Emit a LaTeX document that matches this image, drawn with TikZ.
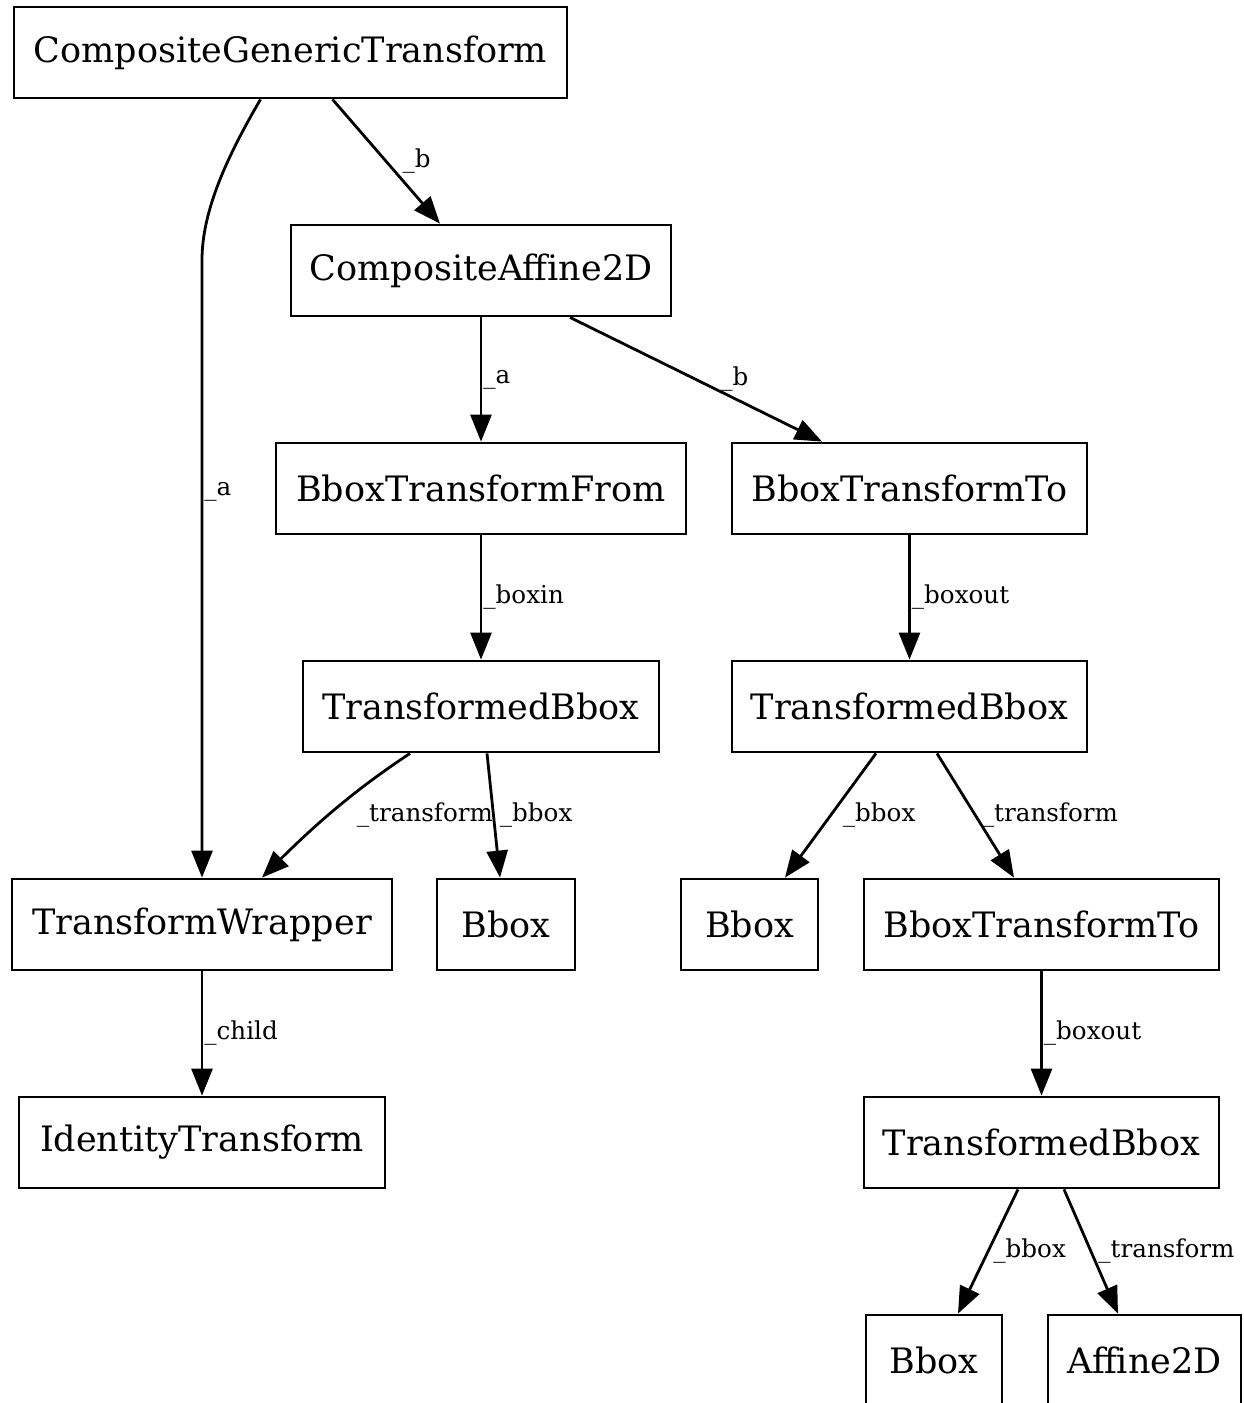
\documentclass[tikz,border=0pt]{standalone}
\usepackage{fontspec}
\setmainfont{DejaVu Serif}
\usetikzlibrary{arrows.meta,calc}
\tikzset{
  cls/.style={draw=black, line width=1.4pt, fill=white, inner sep=0pt,
    minimum height=45.5pt, font=\fontsize{17.5}{20}\selectfont},
  ref/.style={draw=black, line width=1.4pt, -{Triangle[length=13.5pt, width=10.5pt]}},
  elbl/.style={font=\fontsize{12.3}{14}\selectfont, inner sep=0.5pt, anchor=west}
}
\begin{document}
\begin{tikzpicture}[x=0.5pt, y=-0.5pt]
    \useasboundingbox (0,0) rectangle (1243,1403);
    % rows of the reference tree
    \node[cls, minimum width=276.5pt] (cgt) at (290.5,52.5) {CompositeGenericTransform};
    \node[cls, minimum width=190pt] (ca2d) at (481,270.5) {CompositeAffine2D};
    \node[cls, minimum width=205pt] (btf) at (481,488.5) {BboxTransformFrom};
    \node[cls, minimum width=177.5pt] (btt) at (909.5,488.5) {BboxTransformTo};
    \node[cls, minimum width=178pt] (tbA) at (481,706.5) {TransformedBbox};
    \node[cls, minimum width=177.5pt] (tbB) at (909.5,706.5) {TransformedBbox};
    \node[cls, minimum width=190pt] (tw) at (202,924.5) {TransformWrapper};
    \node[cls, minimum width=69pt] (bboxA) at (506,924.5) {Bbox};
    \node[cls, minimum width=68.5pt] (bboxB) at (749.5,924.5) {Bbox};
    \node[cls, minimum width=177.5pt] (btt2) at (1041.5,924.5) {BboxTransformTo};
    \node[cls, minimum width=183pt] (idt) at (202,1142.5) {IdentityTransform};
    \node[cls, minimum width=177.5pt] (tbC) at (1041.5,1142.5) {TransformedBbox};
    \node[cls, minimum width=68pt] (bboxC) at (934,1360.5) {Bbox};
    \node[cls, minimum width=96.5pt] (aff) at (1144.5,1360.5) {Affine2D};

    % references
    \draw[ref] ($(cgt.south)+(42,0)$) -- node[elbl, pos=0.5, xshift=7pt]{\_b} ($(ca2d.north)+(-41,0)$);
    \draw[ref] ($(cgt.south)+(-30,0)$) .. controls (228,155) and (202,210) .. (202,260)
      -- node[elbl, pos=0.375]{\_a} (tw.north);
    \draw[ref] (ca2d) -- node[elbl, pos=0.5]{\_a} (btf);
    \draw[ref] ($(ca2d.south)+(89,0)$) -- node[elbl, pos=0.5, xshift=11pt]{\_b} ($(btt.north)+(-87.5,0)$);
    \draw[ref] (btf) -- node[elbl, pos=0.5]{\_boxin} (tbA);
    \draw[ref] (btt) -- node[elbl, pos=0.5]{\_boxout} (tbB);
    \draw[ref] ($(tbA.south)+(-71,0)$) .. controls (370,780) and (330,810) ..
      node[elbl, pos=0.5, xshift=4pt, yshift=-7.5pt]{\_transform} ($(tw.north)+(60,0)$);
    \draw[ref] ($(tbA.south)+(6,0)$) -- node[elbl, pos=0.5, xshift=2pt]{\_bbox} ($(bboxA.north)+(-6,0)$);
    \draw[ref] ($(tbB.south)+(-33.5,0)$) -- node[elbl, pos=0.5, xshift=5pt]{\_bbox} ($(bboxB.north)+(35.5,0)$);
    \draw[ref] ($(tbB.south)+(27.5,0)$) -- node[elbl, pos=0.5, xshift=2pt]{\_transform} ($(btt2.north)+(-27.5,0)$);
    \draw[ref] (tw) -- node[elbl, pos=0.5]{\_child} (idt);
    \draw[ref] (btt2) -- node[elbl, pos=0.5]{\_boxout} (tbC);
    \draw[ref] ($(tbC.south)+(-23.5,0)$) -- node[elbl, pos=0.5, xshift=1.5pt]{\_bbox} ($(bboxC.north)+(24,0)$);
    \draw[ref] ($(tbC.south)+(22.5,0)$) -- node[elbl, pos=0.5, xshift=2.5pt]{\_transform} ($(aff.north)+(-26.5,0)$);
\end{tikzpicture}
\end{document}
